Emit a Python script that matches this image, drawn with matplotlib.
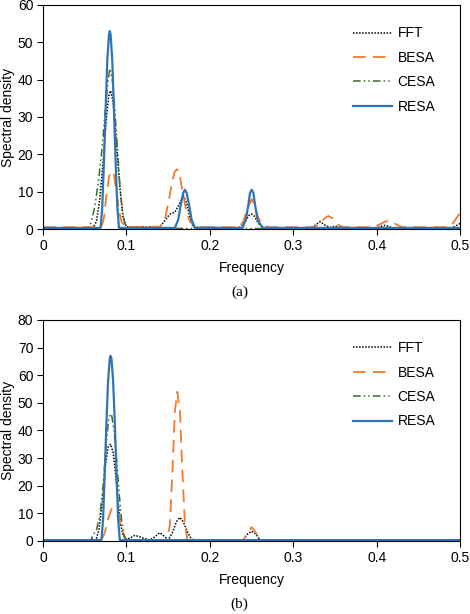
import numpy as np
import matplotlib
matplotlib.use('Agg')
import matplotlib.pyplot as plt

plt.rcParams['font.family'] = ['Liberation Sans', 'DejaVu Sans']
plt.rcParams['font.size'] = 10

# === 数据 (a) ===
fa_fft = [0, 0.06, 0.064, 0.068, 0.072, 0.076, 0.079, 0.081, 0.084, 0.087, 0.09, 0.093, 0.096, 0.1,
          0.14, 0.145, 0.152, 0.158, 0.163, 0.168, 0.172, 0.176, 0.18,
          0.235, 0.242, 0.247, 0.25, 0.253, 0.258, 0.265, 0.32, 0.326, 0.332, 0.338, 0.344, 0.35, 0.356, 0.362,
          0.40, 0.405, 0.41, 0.415, 0.42, 0.49, 0.5]
va_fft = [0.3, 0.3, 2, 8, 18, 30, 36, 37, 34, 26, 17, 9, 3, 0.6,
          0.5, 2, 4, 4.5, 6.5, 9, 7, 3, 0.5,
          0.3, 2, 3.7, 4, 3.5, 1.5, 0.3, 0.3, 1, 2, 1, 0.4, 0.8, 0.4, 0.3,
          0.3, 0.7, 1, 0.6, 0.3, 0.3, 1.5]
fa_besa = [0, 0.07, 0.073, 0.076, 0.079, 0.082, 0.085, 0.088, 0.091, 0.094, 0.098, 0.1,
           0.14, 0.146, 0.151, 0.155, 0.158, 0.161, 0.164, 0.168, 0.172, 0.176, 0.182, 0.19,
           0.235, 0.24, 0.245, 0.25, 0.254, 0.258, 0.263, 0.27,
           0.325, 0.332, 0.338, 0.342, 0.347, 0.353, 0.36, 0.395, 0.403, 0.41, 0.415, 0.42, 0.43,
           0.485, 0.49, 0.495, 0.5]
va_besa = [0.5, 0.5, 3, 9, 14, 15.5, 14.5, 10, 5, 2, 0.8, 0.6,
           0.6, 2.5, 8, 13, 15.5, 16, 14, 9, 4.5, 2, 0.8, 0.5,
           0.5, 2, 5.5, 8, 6, 3, 1.2, 0.5,
           0.5, 1.5, 3, 3.5, 2.8, 1.2, 0.5, 0.5, 1.2, 2, 2.2, 1.6, 0.5,
           0.5, 1.2, 2.8, 4.5]
fa_cesa = [0, 0.054, 0.058, 0.062, 0.066, 0.07, 0.074, 0.077, 0.08, 0.083, 0.086, 0.089, 0.092, 0.095, 0.098, 0.101, 0.5]
va_cesa = [0, 0, 2, 6, 12, 20, 30, 38, 43, 40, 32, 22, 12, 5, 1.5, 0.2, 0]
fa_resa = [0, 0.069, 0.071, 0.073, 0.075, 0.077, 0.079, 0.08, 0.081, 0.083, 0.085, 0.087, 0.089, 0.091,
           0.158, 0.162, 0.165, 0.168, 0.17, 0.172, 0.175, 0.178, 0.182,
           0.239, 0.243, 0.246, 0.248, 0.25, 0.252, 0.254, 0.257, 0.263, 0.5]
va_resa = [0.3, 0.3, 6, 18, 32, 45, 52, 53, 52, 45, 32, 18, 6, 0.3,
           0.3, 2.5, 6.5, 9.7, 10.5, 9.7, 6.5, 2.5, 0.3,
           0.3, 2.5, 6.5, 9.7, 10.5, 9.7, 6.5, 2.5, 0.3, 0.3]

# === 数据 (b) ===
fb_fft = [0, 0.055, 0.058, 0.061, 0.064, 0.067, 0.071, 0.075, 0.078, 0.081, 0.084, 0.087, 0.09, 0.093, 0.096, 0.1,
          0.105, 0.11, 0.115, 0.12, 0.128, 0.134, 0.14, 0.146, 0.15,
          0.155, 0.16, 0.164, 0.168, 0.172, 0.176, 0.18,
          0.24, 0.245, 0.25, 0.255, 0.26, 0.5]
vb_fft = [0.3, 0.3, 1, 0.3, 1, 4, 14, 28, 34, 35, 32, 24, 14, 6, 2, 0.5,
          1.2, 2, 1.6, 1, 0.3, 1.5, 3, 1.5, 0.3,
          3, 7, 8.5, 7, 4, 1.5, 0.3,
          0.3, 2.5, 3.5, 2.5, 0.3, 0.3]
fb_besa = [0, 0.07, 0.074, 0.078, 0.082, 0.086, 0.09, 0.094, 0.098, 0.1,
           0.149, 0.152, 0.155, 0.158, 0.161, 0.164, 0.167, 0.17, 0.173,
           0.24, 0.245, 0.25, 0.255, 0.26, 0.5]
vb_besa = [0.3, 0.3, 3, 8, 11.5, 12, 10, 5, 1, 0.3,
           0.3, 6, 25, 47, 54, 47, 25, 6, 0.3,
           0.3, 3, 5, 3, 0.3, 0.3]
fb_cesa = [0, 0.056, 0.06, 0.064, 0.068, 0.072, 0.076, 0.079, 0.082, 0.085, 0.088, 0.091, 0.094, 0.097, 0.1, 0.5]
vb_cesa = [0, 0, 2, 4, 9, 20, 36, 45, 46, 40, 30, 18, 8, 2, 0.3, 0]
fb_resa = [0, 0.07, 0.072, 0.074, 0.076, 0.078, 0.08, 0.081, 0.082, 0.084, 0.086, 0.088, 0.09, 0.092, 0.5]
vb_resa = [0.3, 0.3, 8, 25, 43, 58, 66, 67, 66, 58, 43, 25, 8, 0.3, 0.3]

labels = ['FFT', 'BESA', 'CESA', 'RESA']
colors = ['black', '#ED7D31', '#3E6B2E', '#2E75B6']
styles = [(0, (1, 1)), (0, (7, 4)), (0, (5, 2, 1, 2, 1, 2)), '-']
widths = [1.1, 1.3, 1.1, 1.6]

fig = plt.figure(figsize=(4.7, 6.14), dpi=100)
ax1 = fig.add_axes([0.0915, 0.627, 0.888, 0.365])
ax2 = fig.add_axes([0.0915, 0.119, 0.888, 0.360])

panels = [
    (ax1, [(fa_fft, va_fft), (fa_besa, va_besa), (fa_cesa, va_cesa), (fa_resa, va_resa)], 60, '(a)', 1 - 292 / 614),
    (ax2, [(fb_fft, vb_fft), (fb_besa, vb_besa), (fb_cesa, vb_cesa), (fb_resa, vb_resa)], 80, '(b)', 1 - 604 / 614),
]

for ax, series, ymax, tag, ty in panels:
    for (f, v), lab, c, ls, lw in zip(series, labels, colors, styles, widths):
        ax.plot(f, v, color=c, linestyle=ls, linewidth=lw, label=lab)
    ax.set_xlim(0, 0.5)
    ax.set_ylim(0, ymax)
    ax.set_xticks(np.arange(0, 0.51, 0.1))
    ax.set_xticklabels(['0', '0.1', '0.2', '0.3', '0.4', '0.5'])
    ax.set_yticks(np.arange(0, ymax + 1, 10))
    ax.tick_params(direction='out', length=4, width=0.8, pad=3)
    for s in ax.spines.values():
        s.set_linewidth(0.8)
    ax.set_xlabel('Frequency', labelpad=6)
    ax.set_ylabel('Spectral density', labelpad=2)
    ax.legend(frameon=False, loc='upper right', bbox_to_anchor=(0.97, 0.96),
              handlelength=2.8, handletextpad=0.4, labelspacing=0.75, fontsize=10)
    fig.text(0.51, ty, tag, ha='center', va='center', fontsize=11,
             family=['Liberation Serif', 'DejaVu Serif'])

plt.savefig('out.png', dpi=100)
